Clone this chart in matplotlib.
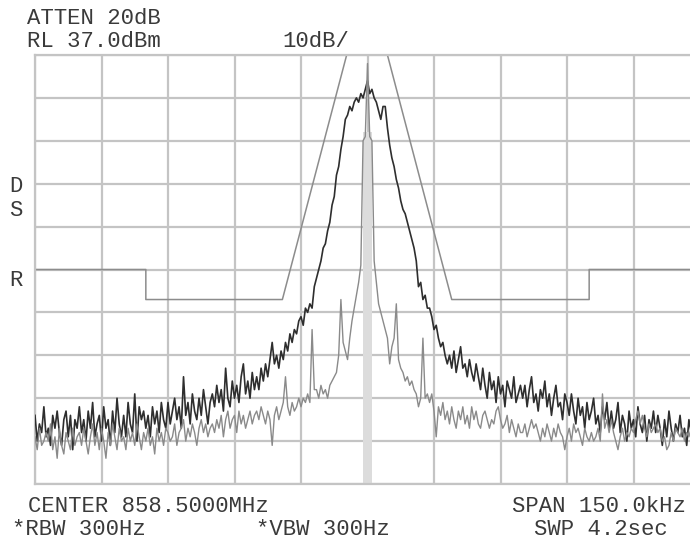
import matplotlib

matplotlib.use("Agg")
import matplotlib.pyplot as plt
import numpy as np

# sweep: offset from centre in kHz, 0.5 kHz per point
freq_khz = np.arange(-75, 75.5, 0.5)

# broadband (modulated) trace, dBm
trace_dark = [
    -47, -53, -49, -51, -45, -52, -50, -54, -47, -50, -46, -51, -54, -48, -46, -52, -47, -55, -48, -50,
    -45, -51, -48, -53, -46, -50, -44, -52, -49, -47, -53, -45, -50, -48, -54, -46, -51, -43, -49, -52,
    -47, -52, -44, -49, -51, -42, -53, -45, -48, -46, -50, -47, -52, -45, -49, -46, -51, -44, -48, -50,
    -44, -49, -46, -43, -48, -45, -50, -38, -47, -44, -49, -42, -46, -48, -43, -47, -41, -45, -49, -44,
    -42, -45, -40, -44, -41, -46, -36, -43, -45, -39, -43, -40, -44, -38, -35, -42, -39, -43, -37, -41,
    -38, -41, -36, -39, -35, -38, -34, -30, -35, -33, -36, -32, -34, -30, -32, -28, -30, -27, -28, -25,
    -24, -26, -22, -23, -21, -22, -17, -15, -13, -11, -8, -7, -4, -2, 2, 4, 9, 11, 15, 18,
    22, 23, 25, 24, 26, 27, 26, 28, 27, 29, 31, 28, 29, 27, 26, 24, 22, 25, 25, 20,
    16, 13, 11, 8, 6, 3, 1, 0, -2, -4, -6, -8, -11, -17, -16, -20, -19, -22, -22, -24,
    -27, -26, -29, -31, -30, -33, -35, -33, -36, -32, -37, -34, -31, -36, -35, -38, -34, -37, -39, -35,
    -38, -41, -36, -40, -43, -37, -41, -39, -44, -38, -42, -40, -45, -39, -41, -43, -38, -44, -42, -40,
    -43, -40, -45, -41, -38, -44, -42, -46, -41, -43, -39, -45, -42, -47, -43, -40, -45, -44, -48, -42,
    -44, -47, -42, -46, -49, -43, -47, -45, -50, -44, -48, -46, -43, -49, -47, -51, -45, -48, -44, -50,
    -46, -50, -48, -44, -51, -47, -49, -53, -46, -50, -48, -52, -45, -49, -51, -47, -53, -48, -50, -46,
    -51, -47, -50, -54, -48, -52, -46, -50, -53, -49, -51, -47, -52, -50, -54, -48, -51, -49, -53, -50,
    -50,
]

# unmodulated carrier trace, dBm
trace_grey = [
    -52, -55, -50, -54, -53, -51, -53, -49, -55, -52, -57, -50, -54, -56, -51, -53, -55, -50, -54, -52,
    -51, -54, -50, -53, -56, -52, -49, -54, -51, -55, -50, -53, -57, -51, -54, -49, -52, -55, -50, -53,
    -52, -55, -50, -53, -51, -54, -49, -52, -55, -51, -53, -50, -54, -52, -56, -50, -53, -51, -54, -50,
    -51, -53, -52, -49, -54, -51, -50, -48, -53, -50, -52, -49, -51, -54, -50, -48, -51, -49, -52, -50,
    -49, -51, -48, -50, -47, -52, -48, -46, -50, -48, -47, -51, -46, -49, -47, -50, -48, -46, -49, -47,
    -46, -48, -45, -47, -49, -46, -48, -54, -47, -45, -48, -46, -44, -38, -45, -47, -44, -46, -45, -43,
    -45, -43, -44, -42, -44, -27, -41, -41, -43, -40, -42, -41, -43, -40, -39, -38, -37, -33, -20, -30,
    -32, -34, -29, -25, -22, -19, -16, -12, 17, 18, 35, 18, 17, -11, -16, -21, -23, -25, -27, -29,
    -35, -31, -29, -21, -34, -36, -37, -39, -38, -40, -39, -41, -42, -45, -43, -29, -43, -42, -44, -42,
    -46, -52, -45, -47, -44, -48, -46, -49, -45, -48, -50, -46, -48, -45, -49, -47, -50, -45, -48, -46,
    -49, -50, -47, -46, -48, -50, -48, -49, -46, -45, -48, -50, -49, -47, -51, -48, -50, -52, -49, -51,
    -51, -49, -52, -50, -48, -50, -49, -51, -53, -50, -52, -49, -51, -53, -50, -52, -49, -51, -52, -55,
    -52, -50, -53, -49, -51, -50, -52, -54, -50, -52, -53, -51, -53, -52, -50, -53, -42, -50, -48, -51,
    -48, -51, -53, -55, -52, -50, -53, -51, -52, -50, -51, -48, -46, -49, -47, -50, -52, -49, -51, -50,
    -49, -51, -50, -53, -52, -55, -54, -51, -53, -50, -51, -52, -50, -53, -51, -52, -50, -53, -51, -52,
    -51,
]

# spectrum mask (limit line)
mask_khz = [-75, -50, -50, -19.2, -4.7, 4.5, 19, 50, 50, 75]
mask_dbm = [-13, -13, -20, -20, 37, 37, -20, -20, -13, -13]

# carrier band (light fill)
carrier_khz = [-1.0, 1.1]
carrier_top_dbm = 19

ref_level = 37.0
db_per_div = 10
span_khz = 150

W, H = 690, 540


def px(x, y):
    return x / W, 1 - y / H


fig = plt.figure(figsize=(W / 100, H / 100), dpi=100)
left, top = px(35, 55)
right, bottom = px(700, 484)
ax = fig.add_axes([left, bottom, right - left, top - bottom])

ax.set_xlim(-span_khz / 2, span_khz / 2)
ax.set_ylim(ref_level - 10 * db_per_div, ref_level)
ax.set_xticks(np.arange(-75, 76, 15))
ax.set_yticks(np.arange(ref_level - 100, ref_level + 1, db_per_div))
ax.tick_params(length=0, labelbottom=False, labelleft=False)
ax.grid(True, color="#c4c4c4", linewidth=1.6)
ax.set_axisbelow(True)
for spine in ax.spines.values():
    spine.set_color("#c4c4c4")
    spine.set_linewidth(1.6)

ax.fill_between(carrier_khz, ref_level - 100, carrier_top_dbm, color="#dcdcdc", linewidth=0, zorder=1)
ax.plot(mask_khz, mask_dbm, color="#8c8c8c", linewidth=1.1, zorder=2)
ax.plot(freq_khz, trace_dark, color="#2e2e2e", linewidth=1.2, zorder=3)
ax.plot(freq_khz, trace_grey, color="#8a8a8a", linewidth=1.0, zorder=4)

font = dict(family="Liberation Mono", fontsize=16, color="#3a3a3a")
fig.text(*px(27, 24), "ATTEN 20dB", **font)
fig.text(*px(27, 47), "RL 37.0dBm", **font)
fig.text(*px(316, 47), "10dB/", ha="center", **font)
fig.text(*px(16, 186), "D", ha="center", va="center", **font)
fig.text(*px(16, 210), "S", ha="center", va="center", **font)
fig.text(*px(16, 280), "R", ha="center", va="center", **font)
fig.text(*px(28, 512), "CENTER 858.5000MHz", **font)
fig.text(*px(686, 512), "SPAN 150.0kHz", ha="right", **font)
fig.text(*px(12, 535), "*RBW 300Hz", **font)
fig.text(*px(323, 535), "*VBW 300Hz", ha="center", **font)
fig.text(*px(668, 535), "SWP 4.2sec", ha="right", **font)

fig.savefig("out.png", dpi=100)
